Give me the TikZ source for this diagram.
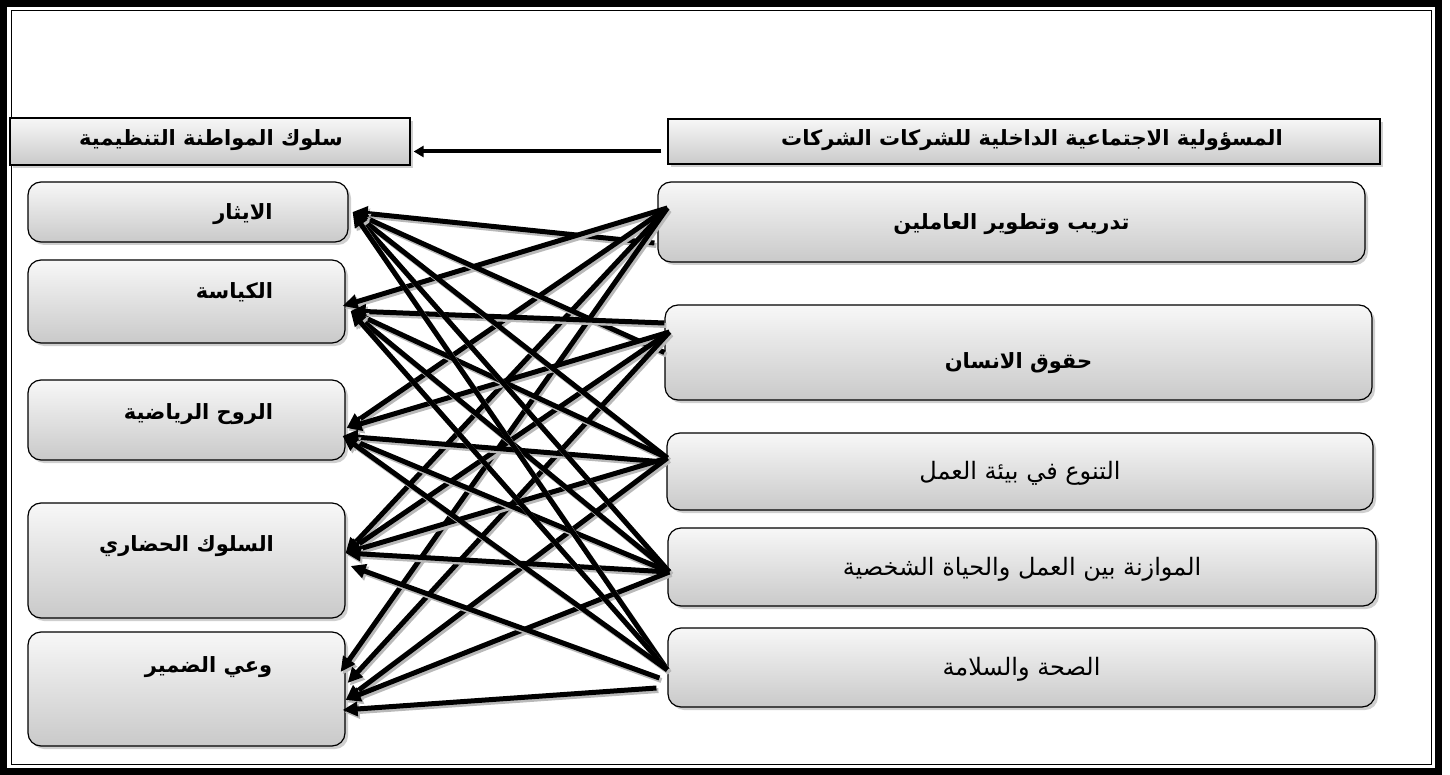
\documentclass[tikz,border=0pt]{standalone}
\usepackage{fontspec}
\usepackage{tikz}
\usetikzlibrary{arrows.meta,shadows}
\TeXXeTstate=1
\newfontfamily\arabicfont[Script=Arabic]{DejaVu Sans}

\begin{document}
\begin{tikzpicture}[x=1pt,y=-1pt,
    box/.style = {draw, line width=1.2pt, inner sep=0pt, top color=gray!6, bottom color=gray!42,
        drop shadow={shadow xshift=3pt, shadow yshift=-3pt, fill=gray!75}},
    rbox/.style = {box, rounded corners=13pt},
    bold/.style = {font=\arabicfont\bfseries\fontsize{21}{24}\selectfont},
    thin/.style = {font=\arabicfont\fontsize{24}{27}\selectfont},
    conn/.style = {line width=5pt, -{Triangle[length=15pt,width=14pt]},
        preaction={draw=gray!55, line width=5pt, -{Triangle[length=15pt,width=14pt]}, transform canvas={shift={(2pt,-2.5pt)}}}},
    head/.style = {line width=4pt, -{Triangle[length=10pt,width=11pt]}}]
    \useasboundingbox (0,0) rectangle (1450,775);
    \draw[line width=7pt] (3.5,3.5) rectangle (1438.5,771.5);
    \draw[line width=1pt] (11,11) rectangle (1431,764);

    \node[box, minimum width=400pt, minimum height=47pt,
        label={[bold, xshift=1pt, yshift=1.5pt]center:{\beginR سلوك المواطنة التنظيمية\endR}}] (hl) at (210,141.5) {};
    \node[box, minimum width=712pt, minimum height=45pt,
        label={[bold, xshift=8pt, yshift=1.5pt]center:{\beginR المسؤولية الاجتماعية الداخلية للشركات الشركات\endR}}] (hr) at (1024,141.5) {};

    \node[rbox, minimum width=320pt, minimum height=60pt,
        label={[bold, xshift=55pt, yshift=-2pt]center:{\beginR الايثار\endR}}] (l1) at (188,212) {};
    \node[rbox, minimum width=317pt, minimum height=83pt,
        label={[bold, xshift=48pt, yshift=9.5pt]center:{\beginR الكياسة\endR}}] (l2) at (186.5,301.5) {};
    \node[rbox, minimum width=317pt, minimum height=80pt,
        label={[bold, xshift=12pt, yshift=6pt]center:{\beginR الروح الرياضية\endR}}] (l3) at (186.5,420) {};
    \node[rbox, minimum width=317pt, minimum height=115pt,
        label={[bold, xshift=0pt, yshift=14pt]center:{\beginR السلوك الحضاري\endR}}] (l4) at (186.5,560.5) {};
    \node[rbox, minimum width=317pt, minimum height=114pt,
        label={[bold, xshift=22pt, yshift=22pt]center:{\beginR وعي الضمير\endR}}] (l5) at (186.5,689) {};

    \node[rbox, minimum width=707pt, minimum height=80pt,
        label={[bold, yshift=-2pt]center:{\beginR تدريب وتطوير العاملين\endR}}] (r1) at (1011.5,222) {};
    \node[rbox, minimum width=707pt, minimum height=95pt,
        label={[bold, yshift=-11pt]center:{\beginR حقوق الانسان\endR}}] (r2) at (1018.5,352.5) {};
    \node[rbox, minimum width=706pt, minimum height=77pt,
        label={[thin, yshift=-2pt]center:{\beginR التنوع في بيئة العمل\endR}}] (r3) at (1020,471.5) {};
    \node[rbox, minimum width=708pt, minimum height=78pt,
        label={[thin, yshift=-2pt]center:{\beginR الموازنة بين العمل والحياة الشخصية\endR}}] (r4) at (1022,567) {};
    \node[rbox, minimum width=707pt, minimum height=79pt,
        label={[thin, yshift=-2pt]center:{\beginR الصحة والسلامة\endR}}] (r5) at (1021.5,667.5) {};

    \draw[head] ([xshift=-6pt,yshift=-10pt]hr.west) -- ([xshift=3pt,yshift=-10pt]hl.east);

    \draw[conn] ([xshift=-3pt,yshift=-21pt]r1.west) -- ([xshift=4pt]l1.east);
    \draw[conn] ([xshift=10pt,yshift=14pt]r1.west) -- ([xshift=-3pt,yshift=-4.5pt]l2.east);
    \draw[conn] ([xshift=10pt,yshift=14pt]r1.west) -- ([xshift=1pt,yshift=-8pt]l3.east);
    \draw[conn] ([xshift=10pt,yshift=14pt]r1.west) -- ([yshift=7.5pt]l4.east);
    \draw[conn] ([xshift=10pt,yshift=14pt]r1.west) -- ([xshift=-5pt,yshift=17pt]l5.east);

    \draw[conn] (r2.west) -- ([xshift=4pt]l1.east);
    \draw[conn] ([yshift=29.5pt]r2.west) -- ([xshift=5pt,yshift=-9.5pt]l2.east);
    \draw[conn] ([xshift=5pt,yshift=20.5pt]r2.west) -- ([xshift=1pt,yshift=-8pt]l3.east);
    \draw[conn] ([xshift=5pt,yshift=20.5pt]r2.west) -- ([yshift=7.5pt]l4.east);
    \draw[conn] ([xshift=5pt,yshift=20.5pt]r2.west) -- ([xshift=2pt,yshift=6pt]l5.east);

    \draw[conn] ([xshift=1pt,yshift=13.5pt]r3.west) -- ([xshift=4pt]l1.east);
    \draw[conn] ([xshift=1pt,yshift=13.5pt]r3.west) -- ([xshift=5pt,yshift=-9.5pt]l2.east);
    \draw[conn] ([xshift=-2pt,yshift=9.5pt]r3.west) -- ([xshift=-3pt,yshift=-16pt]l3.east);
    \draw[conn] ([xshift=1pt,yshift=13.5pt]r3.west) -- ([yshift=7.5pt]l4.east);
    \draw[conn] ([xshift=1pt,yshift=13.5pt]r3.west) -- ([yshift=-11pt]l5.east);

    \draw[conn] ([xshift=2pt,yshift=-5pt]r4.west) -- ([xshift=4pt]l1.east);
    \draw[conn] ([xshift=2pt,yshift=-5pt]r4.west) -- ([xshift=5pt,yshift=-9.5pt]l2.east);
    \draw[conn] ([xshift=2pt,yshift=-5pt]r4.west) -- ([xshift=-3pt,yshift=-16pt]l3.east);
    \draw[conn] ([xshift=2pt,yshift=-5pt]r4.west) -- ([yshift=7.5pt]l4.east);
    \draw[conn] ([xshift=2pt,yshift=-5pt]r4.west) -- ([yshift=-11pt]l5.east);

    \draw[conn] ([yshift=-2.5pt]r5.west) -- ([xshift=4pt]l1.east);
    \draw[conn] ([yshift=-2.5pt]r5.west) -- ([xshift=5pt,yshift=-9.5pt]l2.east);
    \draw[conn] ([yshift=-2.5pt]r5.west) -- ([xshift=-3pt,yshift=-16pt]l3.east);
    \draw[conn] ([xshift=-8pt,yshift=-10.5pt]r5.west) -- ([xshift=5pt,yshift=-5.5pt]l4.east);
    \draw[conn] ([xshift=-11pt,yshift=-20.5pt]r5.west) -- ([xshift=-3pt,yshift=-21pt]l5.east);
\end{tikzpicture}
\end{document}
